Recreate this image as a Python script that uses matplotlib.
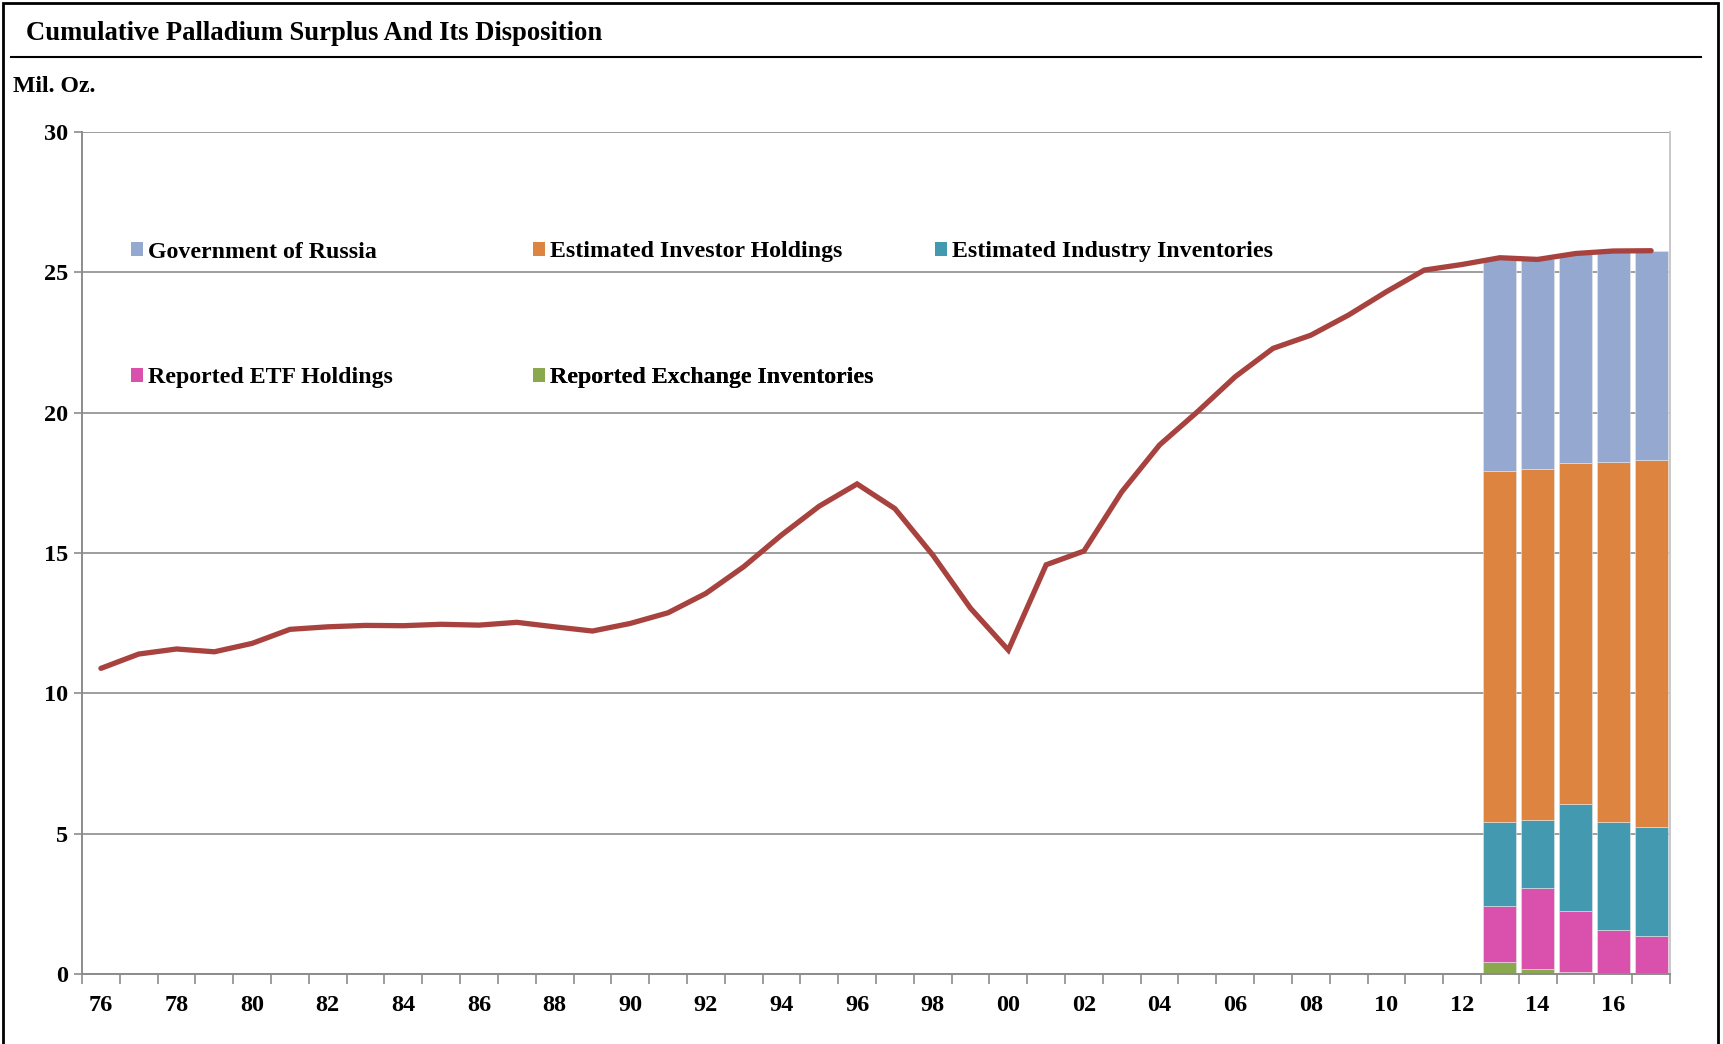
import matplotlib
matplotlib.use("Agg")
import matplotlib.pyplot as plt
import numpy as np
from matplotlib.patches import Patch, Rectangle
from matplotlib.lines import Line2D

years = list(range(1976, 2018))
surplus = [10.89, 11.40, 11.58, 11.48, 11.78, 12.28, 12.37, 12.42, 12.41, 12.46,
           12.43, 12.53, 12.37, 12.22, 12.49, 12.87, 13.56, 14.51, 15.64, 16.67,
           17.46, 16.58, 14.93, 13.03, 11.54, 14.58, 15.07, 17.18, 18.85, 20.03,
           21.28, 22.29, 22.76, 23.48, 24.31, 25.08, 25.28, 25.52, 25.46, 25.67,
           25.76, 25.77]

bar_years = [2013, 2014, 2015, 2016, 2017]
exchange = [0.41, 0.17, 0.07, 0.05, 0.03]
etf = [2.03, 2.90, 2.19, 1.52, 1.34]
industry = [2.97, 2.41, 3.81, 3.86, 3.87]
investor = [12.52, 12.50, 12.12, 12.83, 13.06]
russia = [7.55, 7.50, 7.46, 7.49, 7.47]

tick_labels = ["76", "78", "80", "82", "84", "86", "88", "90", "92", "94", "96",
               "98", "00", "02", "04", "06", "08", "10", "12", "14", "16"]

c_russia = "#95A9D0"
c_investor = "#DC8440"
c_industry = "#4399B0"
c_etf = "#D951AC"
c_exch = "#8AA94F"
c_line = "#A8423E"

W, H = 1723, 1044
fig = plt.figure(figsize=(W / 100, H / 100), dpi=100)
plt.rcParams['font.family'] = ['Liberation Serif', 'DejaVu Serif']

ax = fig.add_axes([82 / W, 1 - 974 / H, (1670 - 82) / W, (974 - 132) / H])

xpos = np.arange(len(years))
bx = np.array([years.index(y) for y in bar_years])
width = 0.875
layers = [(exchange, c_exch, "Reported Exchange Inventories"),
          (etf, c_etf, "Reported ETF Holdings"),
          (industry, c_industry, "Estimated Industry Inventories"),
          (investor, c_investor, "Estimated Investor Holdings"),
          (russia, c_russia, "Government of Russia")]
bottom = np.zeros(len(bar_years))
for vals, col, lab in layers:
    ax.bar(bx, vals, width=width, bottom=bottom, color=col, zorder=2,
           edgecolor="#e6e6e6", linewidth=0.4)
    bottom += np.array(vals)

ax.plot(xpos, surplus, color=c_line, lw=3.8, zorder=4, solid_capstyle="round",
        solid_joinstyle="miter")

ax.set_xlim(-0.5, len(years) - 0.5)
ax.set_ylim(0, 30)
ax.set_yticks(np.arange(0, 31, 5))
ax.yaxis.grid(True, color="#8c8c8c", lw=1.2, zorder=0)
ax.set_axisbelow(True)
ax.tick_params(axis="y", length=6, width=1.2, color="#8c8c8c", direction="out",
               labelsize=17.5, pad=4)
for t in ax.get_yticklabels():
    t.set_fontweight("bold")

lab_pos = [years.index(1976 + 2 * i) for i in range(len(tick_labels))]
ax.set_xticks(lab_pos)
ax.set_xticklabels(tick_labels, fontsize=17.5, fontweight="bold")
ax.tick_params(axis="x", length=0, pad=15)
ax.set_xticks(np.arange(-0.5, len(years), 1.0), minor=True)
ax.tick_params(axis="x", which="minor", length=7, width=1.2, color="#8c8c8c",
               direction="out")

for s in ["left", "bottom"]:
    ax.spines[s].set_color("#8c8c8c")
    ax.spines[s].set_linewidth(1.4)
ax.spines["right"].set_color("#c8c8c8")
ax.spines["right"].set_linewidth(1.4)
ax.spines["top"].set_visible(False)

# legend entries
entries = [("Government of Russia", c_russia, 131, 252),
           ("Estimated Investor Holdings", c_investor, 533, 252),
           ("Estimated Industry Inventories", c_industry, 935, 252),
           ("Reported ETF Holdings", c_etf, 131, 378),
           ("Reported Exchange Inventories", c_exch, 533, 378)]
for lab, col, x, y in entries:
    h = Patch(facecolor=col, edgecolor="none", label=lab)
    lg = ax.legend(handles=[h], loc="center left",
                   bbox_to_anchor=(x / W, 1 - y / H),
                   bbox_transform=fig.transFigure, frameon=False,
                   prop={"size": 17.2, "weight": "bold"}, borderpad=0,
                   handlelength=0.5, handleheight=0.5, handletextpad=0.2,
                   borderaxespad=0)
    ax.add_artist(lg)

# title, rule, unit
fig.text(26 / W, 1 - 34 / H, "Cumulative Palladium Surplus And Its Disposition",
         fontsize=19.2, fontweight="bold", va="center", ha="left")
fig.add_artist(Line2D([11 / W, 1701 / W], [1 - 57 / H, 1 - 57 / H], color="black",
                      lw=1.5, transform=fig.transFigure))
fig.text(13 / W, 1 - 87 / H, "Mil. Oz.", fontsize=17.1, fontweight="bold",
         va="center", ha="left")
fig.add_artist(Rectangle((3 / W, -0.02), (1718 - 3) / W, 1.02 - 3 / H,
                         transform=fig.transFigure, fill=False,
                         edgecolor="black", lw=2))

fig.savefig("out.png", dpi=100)
